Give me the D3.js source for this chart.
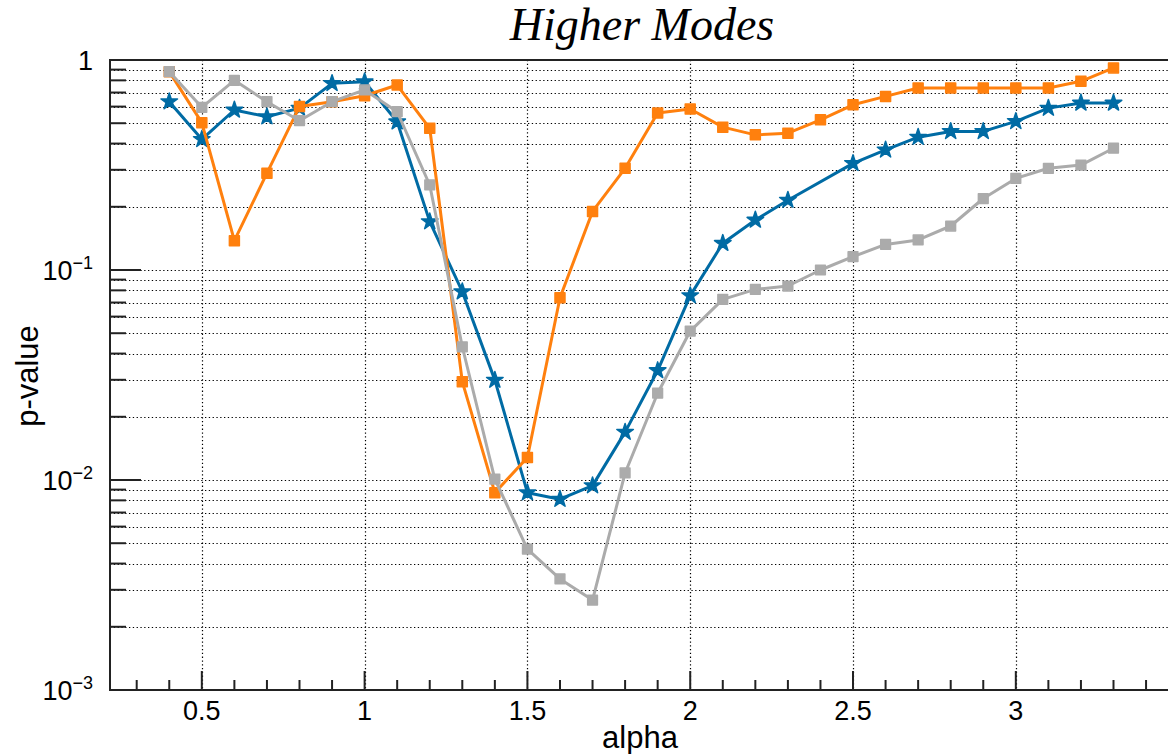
<!DOCTYPE html>
<head>
<meta charset="utf-8" />
<script src="https://d3js.org/d3.v7.min.js"></script>
<style>
    body { margin: 0; background: #fff; font-family: "Liberation Sans", Arial, sans-serif; }
</style>
</head>
<body>
<div id="chart"></div>
<script>
// alpha values and p-values (null = no point)
var alpha = [0.4, 0.5, 0.6, 0.7, 0.8, 0.9, 1.0, 1.1, 1.2, 1.3, 1.4, 1.5, 1.6, 1.7, 1.8,
             1.9, 2.0, 2.1, 2.2, 2.3, 2.4, 2.5, 2.6, 2.7, 2.8, 2.9, 3.0, 3.1, 3.2, 3.3];
var pBlue = [0.633, 0.419, 0.578, 0.537, 0.59, 0.774, 0.788, 0.508, 0.170, 0.0788, 0.0299, 0.0087, 0.0081, 0.0094, 0.0169,
             0.0332, 0.0755, 0.134, 0.173, 0.215, null, 0.322, 0.373, 0.429, 0.457, 0.457, 0.510, 0.590, 0.624, 0.624];
var pOrange = [0.88, 0.503, 0.138, 0.289, 0.600, 0.633, 0.676, 0.760, 0.473, 0.0294, 0.0087, 0.0128, 0.0738, 0.190, 0.305,
               0.559, 0.584, 0.479, 0.440, 0.448, 0.519, 0.612, 0.671, 0.736, 0.736, 0.736, 0.736, 0.736, 0.792, 0.917];
var pGray = [0.88, 0.595, 0.80, 0.633, 0.514, 0.633, 0.72, 0.567, 0.254, 0.0431, 0.0101, 0.00469, 0.00338, 0.00268, 0.0108,
             0.0259, 0.0512, 0.0725, 0.0809, 0.0839, 0.100, 0.1157, 0.1324, 0.139, 0.162, 0.219, 0.273, 0.305, 0.316, 0.380];

var xMajor = [0.5, 1, 1.5, 2, 2.5, 3];
var xMinor = d3.range(3, 35).map(function(i) { return i / 10; });
var yMajor = [1, 0.1, 0.01, 0.001];
var yLabels = ["1", "10|−1", "10|−2", "10|−3"];

var width = 1168, height = 754;
var fl = 110, fr = 1180, ft = 60, fb = 690;

var svg = d3.select("#chart").append("svg")
    .attr("width", width).attr("height", height);

var x = d3.scaleLinear().domain([0.218, 3.462]).range([fl, fl + 3.244 * 325.6]);
var y = d3.scaleLog().domain([0.001, 1]).range([fb, ft]);

// minor y values 2..9 per decade
var yMinor = [];
[0.001, 0.01, 0.1].forEach(function(d) {
    for (var k = 2; k <= 9; k++) yMinor.push(d * k);
});

// grid
var grid = svg.append("g")
    .attr("stroke", "#000").attr("stroke-width", 1.2).attr("stroke-dasharray", "1.3,2.5");
grid.selectAll(".gy").data(yMajor.concat(yMinor)).join("line")
    .attr("x1", fl).attr("x2", width)
    .attr("y1", function(d) { return Math.round(y(d)) + 0.5; })
    .attr("y2", function(d) { return Math.round(y(d)) + 0.5; });
grid.selectAll(".gx").data(xMajor).join("line")
    .attr("y1", ft).attr("y2", fb)
    .attr("x1", function(d) { return Math.round(x(d)) + 0.5; })
    .attr("x2", function(d) { return Math.round(x(d)) + 0.5; });

// ticks
var ticks = svg.append("g").attr("stroke", "#222").attr("stroke-width", 2);
ticks.selectAll(".tx").data(xMinor).join("line")
    .attr("x1", function(d) { return x(d); }).attr("x2", function(d) { return x(d); })
    .attr("y1", fb).attr("y2", function(d) {
        return xMajor.indexOf(Math.round(d * 10) / 10) >= 0 ? fb - 19 : fb - 10;
    });
ticks.selectAll(".ty").data(yMajor.concat(yMinor)).join("line")
    .attr("x1", fl).attr("y1", function(d) { return y(d); }).attr("y2", function(d) { return y(d); })
    .attr("x2", function(d) { return yMajor.indexOf(d) >= 0 ? fl + 31 : fl + 16; });

// frame
svg.append("rect")
    .attr("x", fl).attr("y", ft).attr("width", fr - fl).attr("height", fb - ft)
    .attr("fill", "none").attr("stroke", "#222").attr("stroke-width", 2);

// series
var series = [
    { values: pBlue, color: "#006BA4", symbol: d3.symbolStar, size: 85 },
    { values: pOrange, color: "#FF800E", symbol: d3.symbolSquare, size: 100 },
    { values: pGray, color: "#ABABAB", symbol: d3.symbolSquare, size: 95 }
];
var line = d3.line().x(function(d) { return x(d[0]); }).y(function(d) { return y(d[1]); });

series.forEach(function(s) {
    var pts = alpha.map(function(a, i) { return [a, s.values[i]]; })
        .filter(function(d) { return d[1] != null; });
    svg.append("path").datum(pts)
        .attr("d", line).attr("fill", "none")
        .attr("stroke", s.color).attr("stroke-width", 3).attr("stroke-linejoin", "round");
    svg.append("g").selectAll("path").data(pts).join("path")
        .attr("transform", function(d) { return "translate(" + x(d[0]) + "," + y(d[1]) + ")"; })
        .attr("d", d3.symbol().type(s.symbol).size(s.size))
        .attr("fill", s.color).attr("stroke", s.color).attr("stroke-width", 1.5)
        .attr("stroke-linejoin", "round");
});

// x tick labels
svg.append("g").selectAll("text").data(xMajor).join("text")
    .attr("x", function(d) { return x(d); }).attr("y", 720)
    .attr("text-anchor", "middle").attr("font-size", 27)
    .text(function(d) { return d; });

// y tick labels
var yl = svg.append("g").selectAll("text").data(yMajor).join("text")
    .attr("x", 93).attr("y", function(d) { return y(d) + 10; })
    .attr("text-anchor", "end").attr("font-size", 27);
yl.each(function(d, i) {
    var parts = yLabels[i].split("|");
    var t = d3.select(this);
    t.append("tspan").text(parts[0]);
    if (parts[1]) {
        t.append("tspan").attr("font-size", 18).attr("dy", -11).text(parts[1]);
    }
});

// titles
svg.append("text")
    .attr("x", 642).attr("y", 40).attr("text-anchor", "middle")
    .attr("font-family", "'Liberation Serif', 'Times New Roman', serif")
    .attr("font-style", "italic").attr("font-size", 46)
    .text("Higher Modes");

svg.append("text")
    .attr("x", 640).attr("y", 748).attr("text-anchor", "middle")
    .attr("font-size", 31)
    .text("alpha");

svg.append("text")
    .attr("transform", "translate(38,376) rotate(-90)")
    .attr("text-anchor", "middle").attr("font-size", 31)
    .text("p-value");
</script>
</body>
